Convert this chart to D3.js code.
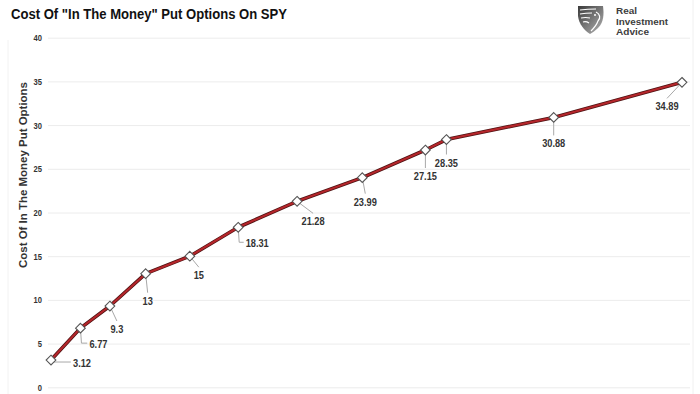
<!DOCTYPE html>
<html>
<head>
<meta charset="utf-8">
<script src="https://cdn.jsdelivr.net/npm/d3@7"></script>
<style>
  html, body { margin: 0; padding: 0; background: #fff; }
  svg { display: block; }
</style>
</head>
<body>
<svg id="chart" width="700" height="394"></svg>
<script>
// ---- data ----
const title = 'Cost Of "In The Money" Put Options On SPY';
const yAxisTitle = 'Cost Of In The Money Put Options';
const daysOut = [0, 14, 28, 45, 66, 89, 117, 148, 178, 188, 239, 300];
const cost = [3.12, 6.77, 9.3, 13, 15, 18.31, 21.28, 23.99, 27.15, 28.35, 30.88, 34.89];
const costLabels = ["3.12", "6.77", "9.3", "13", "15", "18.31", "21.28", "23.99", "27.15", "28.35", "30.88", "34.89"];
const yTicks = [0, 5, 10, 15, 20, 25, 30, 35, 40];
const logoLines = ["Real", "Investment", "Advice"];

// ---- layout (label placement offsets in px, not data) ----
const labelOffsets = [[31, 3], [18, 16], [7, 23], [2, 27], [9, 19], [19, 16], [16, 20], [3, 24], [0, 26], [0, 23], [0, 26], [-15, 24]];

const svg = d3.select("#chart");
const sans = "'Liberation Sans', Arial, Helvetica, sans-serif";

// condense a text horizontally (reference uses a narrow face)
function condense(sel, ratio) {
  sel.each(function () {
    const len = this.getComputedTextLength();
    d3.select(this).attr("textLength", len * ratio).attr("lengthAdjust", "spacingAndGlyphs");
  });
}

const x = d3.scaleLinear().domain([0, 300]).range([51, 682]);
const y = d3.scaleLinear().domain([0, 40]).range([387.3, 37.7]);

// faint frame lines
svg.append("line").attr("x1", 8).attr("x2", 8).attr("y1", 40).attr("y2", 394).attr("stroke", "#f2f2f2");
svg.append("line").attr("x1", 693).attr("x2", 693).attr("y1", 0).attr("y2", 394).attr("stroke", "#f0f0f0");

// title
svg.append("text").attr("x", 11).attr("y", 19)
  .attr("font-family", sans).attr("font-weight", "bold").attr("font-size", 14.5)
  .attr("fill", "#111").text(title)
  .attr("textLength", 276).attr("lengthAdjust", "spacingAndGlyphs");

// gridlines + y axis
const yAxis = d3.axisLeft(y).tickValues(yTicks).tickSize(-642).tickPadding(6).tickFormat(d3.format("d"));
const gy = svg.append("g").attr("transform", "translate(48,0)").call(yAxis);
gy.select(".domain").remove();
gy.selectAll(".tick line").attr("stroke", "#ececec").attr("stroke-width", 1);
gy.selectAll(".tick text").attr("font-family", sans).attr("font-weight", "bold")
  .attr("font-size", 9.5).attr("fill", "#333").attr("x", -6).call(condense, 0.8);

// y axis title
svg.append("text")
  .attr("transform", "translate(27,175) rotate(-90)")
  .attr("text-anchor", "middle")
  .attr("font-family", sans).attr("font-weight", "bold").attr("font-size", 10.5)
  .attr("fill", "#333").text(yAxisTitle)
  .attr("textLength", 186).attr("lengthAdjust", "spacingAndGlyphs");

const pts = daysOut.map((d, i) => ({ px: x(d), py: y(cost[i]), label: costLabels[i], off: labelOffsets[i] }));

// leader lines
const leaders = svg.append("g");
pts.forEach(p => {
  const lx = p.px + p.off[0], ly = p.py + p.off[1];
  const path = d3.path();
  path.moveTo(p.px, p.py);
  if (p.off[0] >= 17) {
    const w = p.label.length * 4.6;
    const endX = lx - w / 2 - 2;
    path.lineTo(p.px + 1, ly - 1);
    path.lineTo(endX, ly - 1);
  } else {
    path.lineTo(lx, ly - 8);
  }
  leaders.append("path").attr("d", path.toString()).attr("fill", "none")
    .attr("stroke", "#a8a8a8").attr("stroke-width", 1);
});

// line
const lineGen = d3.line().x(p => p.px).y(p => p.py);
svg.append("path").datum(pts).attr("d", lineGen).attr("fill", "none")
  .attr("stroke", "#4d1212").attr("stroke-width", 3.6).attr("stroke-linejoin", "round");
svg.append("path").datum(pts).attr("d", lineGen).attr("fill", "none")
  .attr("stroke", "#b5262b").attr("stroke-width", 2.1).attr("stroke-linejoin", "round");

// markers
const sym = d3.symbol().type(d3.symbolDiamond2).size(60);
svg.append("g").selectAll("path").data(pts).join("path")
  .attr("transform", p => `translate(${p.px},${p.py})`)
  .attr("d", sym).attr("fill", "#fff").attr("stroke", "#555").attr("stroke-width", 1.1);

// data labels
svg.append("g").selectAll("text").data(pts).join("text")
  .attr("x", p => p.px + p.off[0]).attr("y", p => p.py + p.off[1] + 4)
  .attr("text-anchor", "middle")
  .attr("font-family", sans).attr("font-weight", "bold").attr("font-size", 11)
  .attr("fill", "#333").text(p => p.label).call(condense, 0.84);

// logo
const logo = svg.append("g");
const defs = svg.append("defs");
const grad = defs.append("linearGradient").attr("id", "eg").attr("x1", "0").attr("y1", "0").attr("x2", "1").attr("y2", "1");
grad.append("stop").attr("offset", "0").attr("stop-color", "#3a3a3a");
grad.append("stop").attr("offset", "1").attr("stop-color", "#b5b5b5");
logo.append("path")
  .attr("d", "M578,6 L603,6 C604,14 604,22 598,28 C595,31 592,33 590,34 C584,30 579,24 578,16 Z")
  .attr("fill", "url(#eg)");
[[580, 10, 596, 9], [580, 14, 592, 13], [581, 18, 590, 18], [583, 22, 589, 23]].forEach(s => {
  logo.append("path").attr("d", `M${s[0]},${s[1]} Q${(s[0] + s[2]) / 2},${s[1] - 1} ${s[2]},${s[3]}`)
    .attr("stroke", "#fff").attr("stroke-width", 1.2).attr("fill", "none");
});
logo.append("path").attr("d", "M596,12 C600,14 601,18 598,21 C597,24 594,28 591,31")
  .attr("stroke", "#fff").attr("stroke-width", 1.2).attr("fill", "none");
logo.append("circle").attr("cx", 595).attr("cy", 15).attr("r", 1).attr("fill", "#fff");
logo.selectAll("text").data(logoLines).join("text")
  .attr("x", 616).attr("y", (d, i) => 14 + i * 10.5)
  .attr("font-family", sans).attr("font-weight", "bold").attr("font-size", 9)
  .attr("fill", "#3d3d3d").text(d => d)
  .attr("textLength", (d, i) => [21, 52, 33][i]).attr("lengthAdjust", "spacingAndGlyphs");
</script>
</body>
</html>
